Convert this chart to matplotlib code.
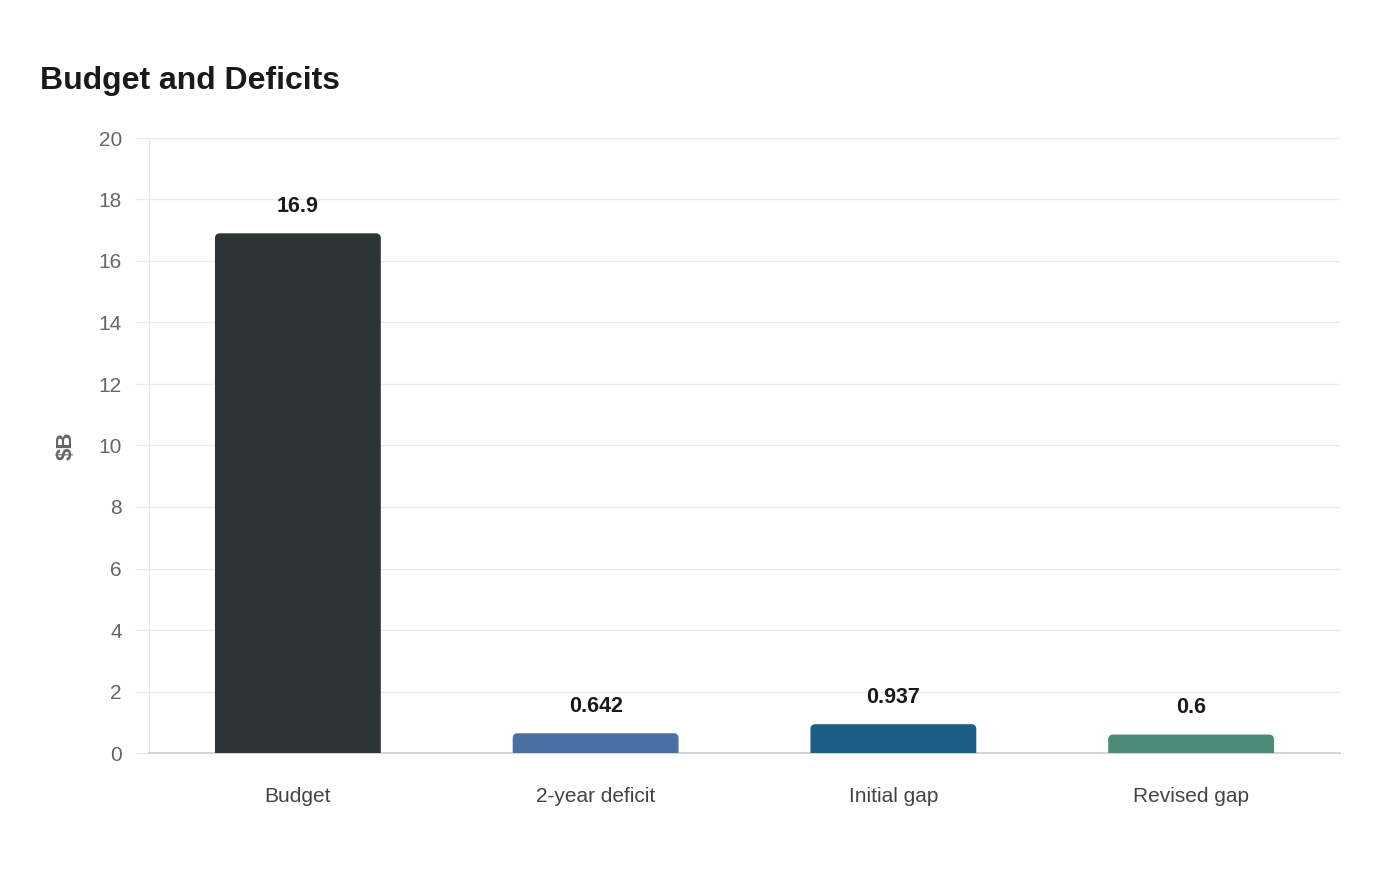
import matplotlib
matplotlib.use("Agg")
import matplotlib.pyplot as plt
import numpy as np
from matplotlib.patches import PathPatch
from matplotlib.path import Path

categories = ["Budget", "2-year deficit", "Initial gap", "Revised gap"]
values = [16.9, 0.642, 0.937, 0.6]
labels = ["16.9", "0.642", "0.937", "0.6"]
colors = ["#2d3436", "#4a6fa5", "#1a5f86", "#4e8c7a"]
yticks = [0, 2, 4, 6, 8, 10, 12, 14, 16, 18, 20]

plt.rcParams['font.family'] = ['Liberation Sans', 'DejaVu Sans']

fig = plt.figure(figsize=(14, 8.8), dpi=100)
ax = fig.add_axes([149/1400, 1 - 753/880, (1340-149)/1400, (753-138)/880])

ax.set_xlim(-0.5, 3.5)
ax.set_ylim(0, 20)

width = 0.557
px_x = (1340 - 149) / 4
px_y = (753 - 138) / 20
r_px = 4.5
rx = r_px / px_x
ry = r_px / px_y


def top_rounded(x0, w, h):
    x1 = x0 + w
    t = np.linspace(0, np.pi / 2, 10)
    right = np.column_stack([x1 - rx + rx * np.cos(t), h - ry + ry * np.sin(t)])
    left = np.column_stack([x0 + rx - rx * np.cos(t[::-1]), h - ry + ry * np.sin(t[::-1])])
    verts = np.vstack([[[x0, 0], [x1, 0]], right, left, [[x0, 0]]])
    codes = [Path.MOVETO] + [Path.LINETO] * (len(verts) - 2) + [Path.CLOSEPOLY]
    return Path(verts, codes)


for i, (v, c) in enumerate(zip(values, colors)):
    x0 = i - width / 2
    ax.add_patch(PathPatch(top_rounded(x0, width, v), facecolor=c,
                           edgecolor="none", zorder=3))
    ax.annotate(labels[i], (i, v), xytext=(0, 19.5), textcoords="offset points",
                ha="center", va="center", fontsize=15.5, fontweight="bold",
                color="#1a1a1a", zorder=4)

ax.set_xticks(range(len(categories)))
ax.set_xticklabels(categories, fontsize=15, color="#444444")
ax.set_yticks(yticks)
ax.set_yticklabels([str(t) for t in yticks], fontsize=15, color="#666666")
ax.tick_params(axis="x", length=0, pad=24.5)
ax.tick_params(axis="y", length=10, width=1, color="#ebebeb", pad=9.5)
ax.grid(axis="y", color="#ebebeb", linewidth=1, zorder=0)
ax.set_axisbelow(True)

for s in ["top", "right"]:
    ax.spines[s].set_visible(False)
ax.spines["left"].set_color("#e6e6e6")
ax.spines["bottom"].set_color("#cccccc")
ax.spines["bottom"].set_linewidth(1.2)

ax.set_ylabel("$B", fontsize=16, fontweight="bold", color="#666666", labelpad=16)

fig.text(40/1400, 1 - 81/880, "Budget and Deficits", fontsize=23, fontweight="bold",
         color="#1a1a1a", ha="left", va="center")

fig.savefig("out.png", dpi=100, facecolor="white")
